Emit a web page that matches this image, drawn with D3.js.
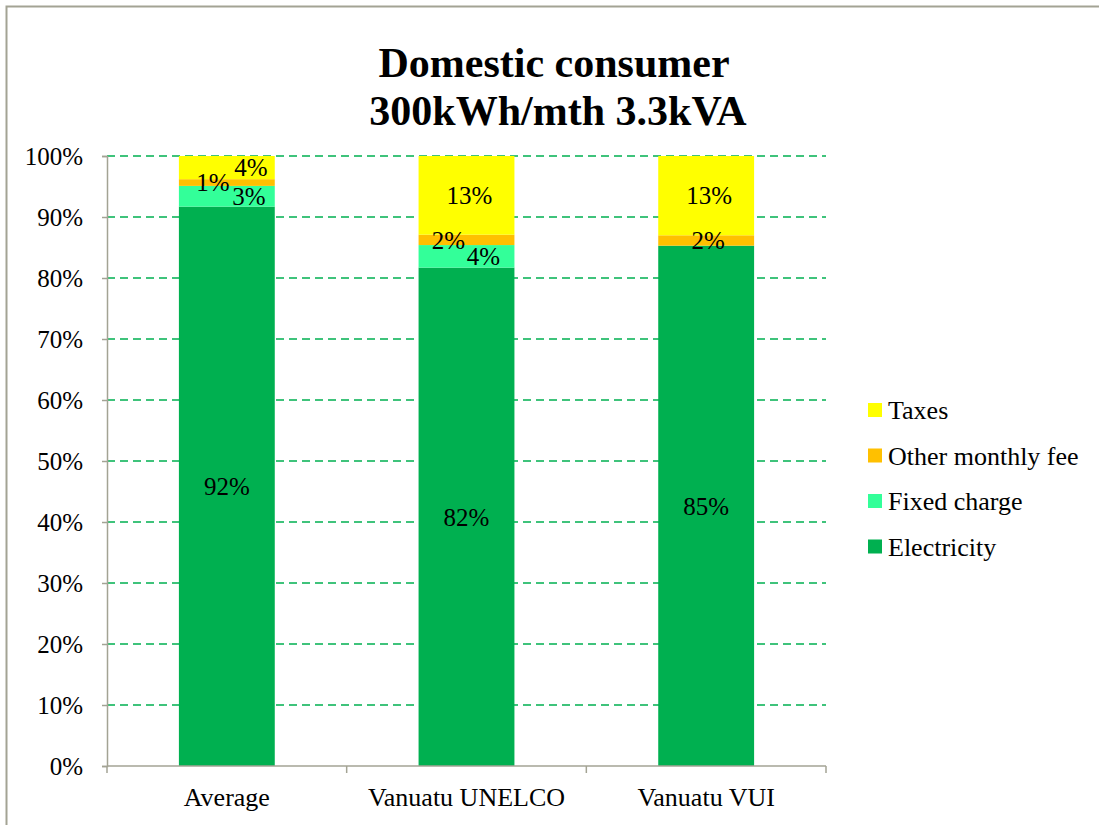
<!DOCTYPE html>
<html>
<head>
<meta charset="utf-8">
<script src="https://cdn.jsdelivr.net/npm/d3@7"></script>
<style>
  body { margin: 0; background: #fff; }
</style>
</head>
<body>
<div id="chart"></div>
<script>
// Chart data.
var categories = ["Average", "Vanuatu UNELCO", "Vanuatu VUI"];
var seriesNames = ["Electricity", "Fixed charge", "Other monthly fee", "Taxes"];
var electricity = [91.7, 81.7, 85.3];
var fixedCharge = [3.4, 3.7, 0];
var otherFee = [1.1, 1.7, 1.7];
var taxes = [3.8, 12.9, 13.0];
var labelText = [
  ["92%", "3%", "1%", "4%"],
  ["82%", "4%", "2%", "13%"],
  ["85%", "", "2%", "13%"]
];
var yTicks = [0, 10, 20, 30, 40, 50, 60, 70, 80, 90, 100];

// Label nudges (px), like hand-moved labels in the original.
var labelShift = [
  [0, 22, -14, 24],
  [0, 17, -18, 3],
  [0, 0, 2, 3]
];

var FONT = "'Liberation Serif', 'Times New Roman', serif";
var colors = ["#00b050", "#33ff99", "#ffc000", "#ffff00"];
var W = 1099, H = 825;
var margin = {top: 156, left: 107, right: 273, bottom: 59};
var width = W - margin.left - margin.right,
    height = H - margin.top - margin.bottom;

var svg = d3.select("#chart").append("svg")
  .attr("width", W).attr("height", H)
  .style("font-family", FONT);

// outer chart border (only left and top visible)
svg.append("path")
  .attr("d", "M6.5," + H + "V6.5H" + W)
  .attr("fill", "none").attr("stroke", "#a3a394").attr("stroke-width", 2);

// title
svg.append("text").attr("x", 554).attr("y", 77)
  .attr("text-anchor", "middle").style("font-family", FONT)
  .style("font-weight", "bold").style("font-size", "42px")
  .text("Domestic consumer");
svg.append("text").attr("x", 558).attr("y", 125)
  .attr("text-anchor", "middle").style("font-family", FONT)
  .style("font-weight", "bold").style("font-size", "42px")
  .text("300kWh/mth 3.3kVA");

var g = svg.append("g")
  .attr("transform", "translate(" + margin.left + "," + margin.top + ")");

var x = d3.scaleBand().domain(categories).range([0, width]).paddingInner(0.6).paddingOuter(0.3);
var xOuter = d3.scaleBand().domain(categories).range([0, width]);
var y = d3.scaleLinear().domain([0, 100]).range([height, 0]);

// gridlines
g.selectAll(".grid").data(yTicks.filter(function(d) { return d > 0; }))
  .enter().append("line")
  .attr("x1", 0).attr("x2", width)
  .attr("y1", function(d) { return y(d); }).attr("y2", function(d) { return y(d); })
  .attr("stroke", "#00b050").attr("stroke-width", 1.5).attr("stroke-dasharray", "8,5");

// stack data
var table = categories.map(function(c, i) {
  return {cat: c, "Electricity": electricity[i], "Fixed charge": fixedCharge[i],
          "Other monthly fee": otherFee[i], "Taxes": taxes[i], idx: i};
});
var stacked = d3.stack().keys(seriesNames)(table);

stacked.forEach(function(layer, si) {
  g.selectAll(".s" + si).data(layer).enter().append("rect")
    .attr("x", function(d) { return x(d.data.cat); })
    .attr("y", function(d) { return y(d[1]); })
    .attr("width", x.bandwidth())
    .attr("height", function(d) { return y(d[0]) - y(d[1]); })
    .attr("fill", colors[si]);
});

// labels
stacked.forEach(function(layer, si) {
  g.selectAll(".l" + si).data(layer).enter().append("text")
    .attr("x", function(d) { return x(d.data.cat) + x.bandwidth() / 2 + labelShift[d.data.idx][si]; })
    .attr("y", function(d) { return y((d[0] + d[1]) / 2); })
    .attr("dy", "0.35em")
    .attr("text-anchor", "middle")
    .style("font-family", FONT)
    .style("font-size", "25px")
    .text(function(d) { return labelText[d.data.idx][si]; });
});

// y axis
var yAxis = g.append("g")
  .call(d3.axisLeft(y).tickValues(yTicks).tickFormat(function(d) { return d + "%"; }).tickSize(5).tickPadding(19));
yAxis.selectAll("line").attr("stroke", "#a3a394").attr("stroke-width", 1.5);
yAxis.select(".domain").attr("stroke", "#a3a394").attr("stroke-width", 1.5);
yAxis.selectAll("text").style("font-size", "25px").style("font-family", FONT).attr("fill", "#000");

// x axis with ticks at category boundaries
var xAxisG = g.append("g").attr("transform", "translate(0," + height + ")");
xAxisG.append("line").attr("x1", 0).attr("x2", width).attr("y1", 0).attr("y2", 0)
  .attr("stroke", "#a3a394").attr("stroke-width", 1.5);
var bounds = categories.map(function(c) { return xOuter(c); }).concat([width]);
xAxisG.selectAll(".xt").data(bounds).enter().append("line")
  .attr("x1", function(d) { return d; }).attr("x2", function(d) { return d; })
  .attr("y1", 0).attr("y2", 7)
  .attr("stroke", "#a3a394").attr("stroke-width", 1.5);
xAxisG.selectAll(".xl").data(categories).enter().append("text")
  .attr("x", function(d) { return xOuter(d) + xOuter.bandwidth() / 2; })
  .attr("y", 40)
  .attr("text-anchor", "middle")
  .style("font-family", FONT)
  .style("font-size", "26px")
  .text(function(d) { return d; });

// legend (reverse order, Taxes on top)
var legend = svg.append("g").attr("transform", "translate(868,410)");
seriesNames.slice().reverse().forEach(function(name, i) {
  var row = legend.append("g").attr("transform", "translate(0," + (i * 45.5) + ")");
  row.append("rect").attr("x", 0).attr("y", -7).attr("width", 14).attr("height", 14)
    .attr("fill", colors[seriesNames.length - 1 - i]);
  row.append("text").attr("x", 20).attr("y", 0).attr("dy", "0.35em")
    .style("font-family", FONT)
    .style("font-size", "26px").text(name);
});
</script>
</body>
</html>
